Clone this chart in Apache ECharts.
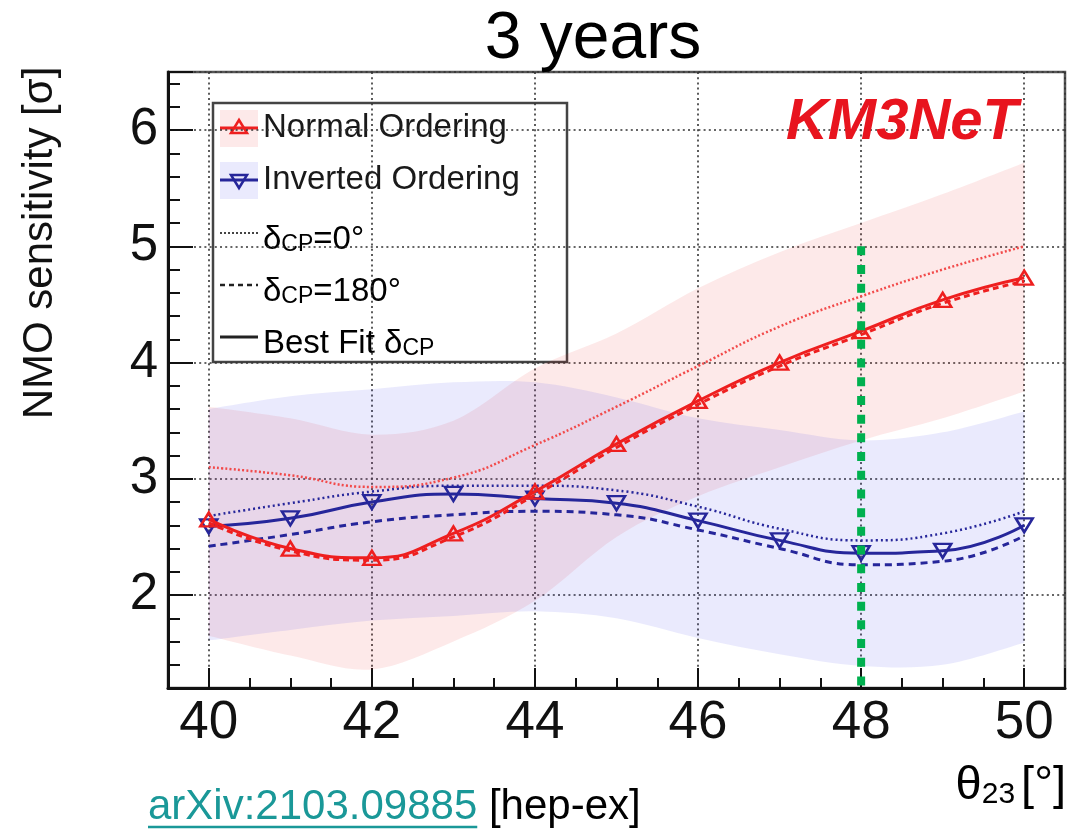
<!DOCTYPE html>
<html>
<head>
<meta charset="utf-8">
<script src="https://cdn.jsdelivr.net/npm/echarts@6/dist/echarts.min.js"></script>
<style>
  html, body { margin: 0; padding: 0; background: #ffffff; }
  #chart { width: 1069px; height: 835px; }
</style>
</head>
<body>
<div id="chart"></div>
<script>
// theta_23 grid points (degrees)
const theta = [40, 41, 42, 43, 44, 45, 46, 47, 48, 49, 50];

// Normal ordering: NMO sensitivity (sigma)
const noBestFit  = [2.65, 2.40, 2.32, 2.53, 2.89, 3.30, 3.67, 4.00, 4.27, 4.54, 4.73];
const noDelta0   = [3.10, 3.03, 2.93, 3.01, 3.29, 3.62, 3.97, 4.31, 4.57, 4.80, 5.00];
const noDelta180 = [2.62, 2.38, 2.30, 2.50, 2.86, 3.27, 3.64, 3.97, 4.24, 4.51, 4.70];
const noBandLow  = [1.65, 1.48, 1.36, 1.60, 1.95, 2.50, 2.85, 3.10, 3.33, 3.52, 3.75];
const noBandHigh = [3.62, 3.52, 3.38, 3.50, 3.95, 4.25, 4.64, 4.95, 5.20, 5.45, 5.72];

// Inverted ordering: NMO sensitivity (sigma)
const ioBestFit  = [2.59, 2.66, 2.80, 2.87, 2.83, 2.79, 2.64, 2.47, 2.36, 2.38, 2.60];
const ioDelta0   = [2.68, 2.79, 2.89, 2.94, 2.94, 2.90, 2.76, 2.57, 2.47, 2.53, 2.72];
const ioDelta180 = [2.42, 2.52, 2.63, 2.69, 2.72, 2.69, 2.56, 2.40, 2.26, 2.29, 2.51];
const ioBandLow  = [1.61, 1.70, 1.78, 1.82, 1.86, 1.80, 1.63, 1.49, 1.39, 1.40, 1.59];
const ioBandHigh = [3.60, 3.71, 3.77, 3.83, 3.83, 3.70, 3.52, 3.42, 3.33, 3.40, 3.58];

// vertical marker at theta_23 = 48 deg
const markTheta = [48, 48];
const markSigma = [5.0, 1.2];

// axis ranges
const xRange = [39.5, 50.5];
const yRange = [1.2, 6.5];

const FONT = '"Liberation Sans", Arial, Helvetica, sans-serif';
const RED = '#ee1f1f';
const RED_LIGHT = '#f24a4a';
const BLUE = '#26269a';
const RED_BAND = 'rgba(240, 40, 40, 0.10)';
const BLUE_BAND = 'rgba(60, 60, 240, 0.11)';

const pairs = (xs, ys) => xs.map((x, i) => [x, ys[i]]);

// Catmull-Rom segments through pixel points, as cubic Bezier path commands
function splineSegments(pts) {
  let d = '';
  for (let i = 0; i < pts.length - 1; i++) {
    const p0 = pts[i - 1] || pts[i], p1 = pts[i], p2 = pts[i + 1], p3 = pts[i + 2] || p2;
    const c1x = p1[0] + (p2[0] - p0[0]) / 6, c1y = p1[1] + (p2[1] - p0[1]) / 6;
    const c2x = p2[0] - (p3[0] - p1[0]) / 6, c2y = p2[1] - (p3[1] - p1[1]) / 6;
    d += ' C' + c1x.toFixed(2) + ',' + c1y.toFixed(2) + ' ' + c2x.toFixed(2) + ',' + c2y.toFixed(2) +
         ' ' + p2[0].toFixed(2) + ',' + p2[1].toFixed(2);
  }
  return d;
}

// uncertainty band between two curves, drawn through the cartesian scales
function bandSeries(low, high, color, z) {
  return {
    type: 'custom', z: z, silent: true, clip: true,
    data: [[theta[0], high[0]]],
    encode: { x: 0, y: 1 },
    renderItem: function (params, api) {
      const top = theta.map((t, i) => api.coord([t, high[i]]));
      const bottom = theta.map((t, i) => api.coord([t, low[i]])).reverse();
      let d = 'M' + top[0][0].toFixed(2) + ',' + top[0][1].toFixed(2) + splineSegments(top);
      d += ' L' + bottom[0][0].toFixed(2) + ',' + bottom[0][1].toFixed(2) + splineSegments(bottom) + ' Z';
      return { type: 'path', shape: { pathData: d }, style: { fill: color, stroke: null } };
    }
  };
}

function curve(ys, color, width, dash, z, marker) {
  const s = {
    type: 'line', smooth: 0.5, data: pairs(theta, ys), z: z,
    lineStyle: { color: color, width: width, type: dash },
    symbol: 'none', silent: true
  };
  if (marker) {
    s.symbol = 'triangle';
    s.symbolSize = [17, 14];
    s.symbolRotate = marker === 'down' ? 180 : 0;
    s.showAllSymbol = true;
    s.itemStyle = { color: 'rgba(0,0,0,0)', borderColor: color, borderWidth: 2.5 };
  }
  return s;
}

const measureCtx = document.createElement('canvas').getContext('2d');
function textWidth(str, size, weight) {
  measureCtx.font = (weight || 'normal') + ' ' + size + 'px ' + FONT;
  return measureCtx.measureText(str).width;
}

const chart = echarts.init(document.getElementById('chart'), null, { renderer: 'canvas' });

const legendRows = [128, 180, 233, 285, 337];
const legendX = 220, legendTextX = 263, legendFont = 33;
const subRich = {
  m: { fontSize: legendFont, fontFamily: FONT, color: '#1a1a1a', lineHeight: 46, verticalAlign: 'bottom' },
  s: { fontSize: 23, fontFamily: FONT, color: '#1a1a1a', lineHeight: 22, verticalAlign: 'bottom' }
};

const arxivText = 'arXiv:2103.09885';
const arxivW = textWidth(arxivText, 42);

const option = {
  animation: false,
  backgroundColor: '#ffffff',
  grid: {
    left: 168, right: 4, top: 72, bottom: 147,
    show: true, borderColor: '#555555', borderWidth: 2.5,
    containLabel: false, outerBoundsMode: 'none'
  },
  xAxis: {
    type: 'value', min: xRange[0], max: xRange[1], splitNumber: 5,
    axisLine: { show: true, onZero: false, lineStyle: { color: '#111', width: 3 } },
    axisTick: { show: true, inside: true, length: 20, lineStyle: { color: '#111', width: 2 } },
    minorTick: { show: true, splitNumber: 4, length: 10, lineStyle: { color: '#111', width: 2 } },
    splitLine: { show: true, lineStyle: { color: '#333', width: 1.6, type: [2, 3.2] } },
    axisLabel: {
      show: true, margin: 9, color: '#111', fontSize: 53, fontFamily: FONT,
      showMinLabel: false, showMaxLabel: false,
      formatter: v => (Math.abs(v - Math.round(v)) < 1e-6 ? String(Math.round(v)) : '')
    }
  },
  yAxis: {
    type: 'value', min: yRange[0], max: yRange[1], splitNumber: 5,
    axisLine: { show: true, onZero: false, lineStyle: { color: '#111', width: 3 } },
    axisTick: { show: true, inside: true, length: 25, lineStyle: { color: '#111', width: 2 } },
    minorTick: { show: true, splitNumber: 5, length: 12, lineStyle: { color: '#111', width: 2 } },
    splitLine: { show: true, lineStyle: { color: '#333', width: 1.6, type: [2, 3.2] } },
    axisLabel: {
      show: true, margin: 10, color: '#111', fontSize: 51, fontFamily: FONT,
      showMinLabel: false, showMaxLabel: false,
      formatter: v => (Math.abs(v - Math.round(v)) < 1e-6 ? String(Math.round(v)) : '')
    }
  },
  series: [
    bandSeries(noBandLow, noBandHigh, RED_BAND, 1),
    bandSeries(ioBandLow, ioBandHigh, BLUE_BAND, 2),
    curve(ioDelta0, BLUE, 2.5, [2, 3], 5),
    curve(ioDelta180, BLUE, 3, [7, 5], 5),
    curve(ioBestFit, BLUE, 3, 'solid', 6, 'down'),
    curve(noDelta0, RED_LIGHT, 2.5, [2, 2.2], 7),
    curve(noDelta180, RED, 3, [6, 4], 7),
    curve(noBestFit, RED, 3, 'solid', 8, 'up'),
    {
      type: 'line', data: pairs(markTheta, markSigma), symbol: 'none', silent: true, z: 10,
      lineStyle: { color: '#00b04f', width: 8, type: [9, 9.7], cap: 'butt' }
    }
  ],
  graphic: [
    // title
    { type: 'text', x: 593, y: 40, z: 20,
      style: { text: '3 years', fontSize: 66, fontFamily: FONT, fill: '#000', align: 'center', verticalAlign: 'middle' } },
    // y axis title
    { type: 'text', x: 40, y: 243, rotation: Math.PI / 2, z: 20,
      style: { text: 'NMO sensitivity [σ]', fontSize: 42, fontFamily: FONT, fill: '#111', align: 'center', verticalAlign: 'middle' } },
    // x axis title
    { type: 'text', x: 1066, y: 775, z: 20,
      style: {
        text: '{m|θ}{s|23}{b|[°]}', align: 'right', verticalAlign: 'middle',
        rich: {
          m: { fontSize: 47, fontFamily: FONT, color: '#111', lineHeight: 70, verticalAlign: 'bottom' },
          s: { fontSize: 30, fontFamily: FONT, color: '#111', lineHeight: 30, verticalAlign: 'bottom' },
          b: { fontSize: 47, fontFamily: FONT, color: '#111', lineHeight: 70, verticalAlign: 'bottom', padding: [0, 0, 0, 6] }
        }
      } },
    // experiment label
    { type: 'text', x: 1018, y: 123, z: 20,
      style: { text: 'KM3NeT', fontSize: 58, fontWeight: 'bold', fontStyle: 'italic', fontFamily: FONT,
               fill: '#e8141e', align: 'right', verticalAlign: 'middle' } },
    // reference
    { type: 'text', x: 148, y: 807, z: 20,
      style: { text: arxivText, fontSize: 42, fontFamily: FONT, fill: '#1a9898', align: 'left', verticalAlign: 'middle' } },
    { type: 'line', z: 20, shape: { x1: 148, y1: 827, x2: 148 + arxivW, y2: 827 },
      style: { stroke: '#1a9898', lineWidth: 2.5 } },
    { type: 'text', x: 148 + arxivW + textWidth(' ', 42), y: 807, z: 20,
      style: { text: '[hep-ex]', fontSize: 42, fontFamily: FONT, fill: '#000', align: 'left', verticalAlign: 'middle' } },
    // legend
    { type: 'group', z: 30, children: [
      { type: 'rect', shape: { x: 213, y: 103, width: 354, height: 259 },
        style: { fill: '#ffffff', stroke: '#444', lineWidth: 2.5 } },
      { type: 'rect', shape: { x: legendX, y: legendRows[0] - 18, width: 38, height: 37 }, style: { fill: RED_BAND } },
      { type: 'line', shape: { x1: legendX, y1: legendRows[0], x2: legendX + 38, y2: legendRows[0] }, style: { stroke: RED, lineWidth: 3 } },
      { type: 'polygon', shape: { points: [[legendX + 19, legendRows[0] - 8], [legendX + 27, legendRows[0] + 5], [legendX + 11, legendRows[0] + 5]] },
        style: { fill: 'none', stroke: RED, lineWidth: 2.5 } },
      { type: 'text', x: legendTextX, y: legendRows[0],
        style: { text: 'Normal Ordering', fontSize: legendFont, fontFamily: FONT, fill: '#1a1a1a', verticalAlign: 'middle' } },
      { type: 'rect', shape: { x: legendX, y: legendRows[1] - 18, width: 38, height: 37 }, style: { fill: BLUE_BAND } },
      { type: 'line', shape: { x1: legendX, y1: legendRows[1], x2: legendX + 38, y2: legendRows[1] }, style: { stroke: BLUE, lineWidth: 3 } },
      { type: 'polygon', shape: { points: [[legendX + 11, legendRows[1] - 5], [legendX + 27, legendRows[1] - 5], [legendX + 19, legendRows[1] + 8]] },
        style: { fill: 'none', stroke: BLUE, lineWidth: 2.5 } },
      { type: 'text', x: legendTextX, y: legendRows[1],
        style: { text: 'Inverted Ordering', fontSize: legendFont, fontFamily: FONT, fill: '#1a1a1a', verticalAlign: 'middle' } },
      { type: 'line', shape: { x1: legendX, y1: legendRows[2], x2: legendX + 38, y2: legendRows[2] },
        style: { stroke: '#444', lineWidth: 2, lineDash: [2, 2] } },
      { type: 'text', x: legendTextX, y: legendRows[2],
        style: { text: '{m|δ}{s|CP}{m|=0°}', verticalAlign: 'middle', rich: subRich } },
      { type: 'line', shape: { x1: legendX, y1: legendRows[3], x2: legendX + 38, y2: legendRows[3] },
        style: { stroke: '#222', lineWidth: 2.5, lineDash: [5, 4] } },
      { type: 'text', x: legendTextX, y: legendRows[3],
        style: { text: '{m|δ}{s|CP}{m|=180°}', verticalAlign: 'middle', rich: subRich } },
      { type: 'line', shape: { x1: legendX, y1: legendRows[4], x2: legendX + 38, y2: legendRows[4] },
        style: { stroke: '#222', lineWidth: 3 } },
      { type: 'text', x: legendTextX, y: legendRows[4],
        style: { text: '{m|Best Fit δ}{s|CP}', verticalAlign: 'middle', rich: subRich } }
    ] }
  ]
};

chart.setOption(option);
</script>
</body>
</html>
